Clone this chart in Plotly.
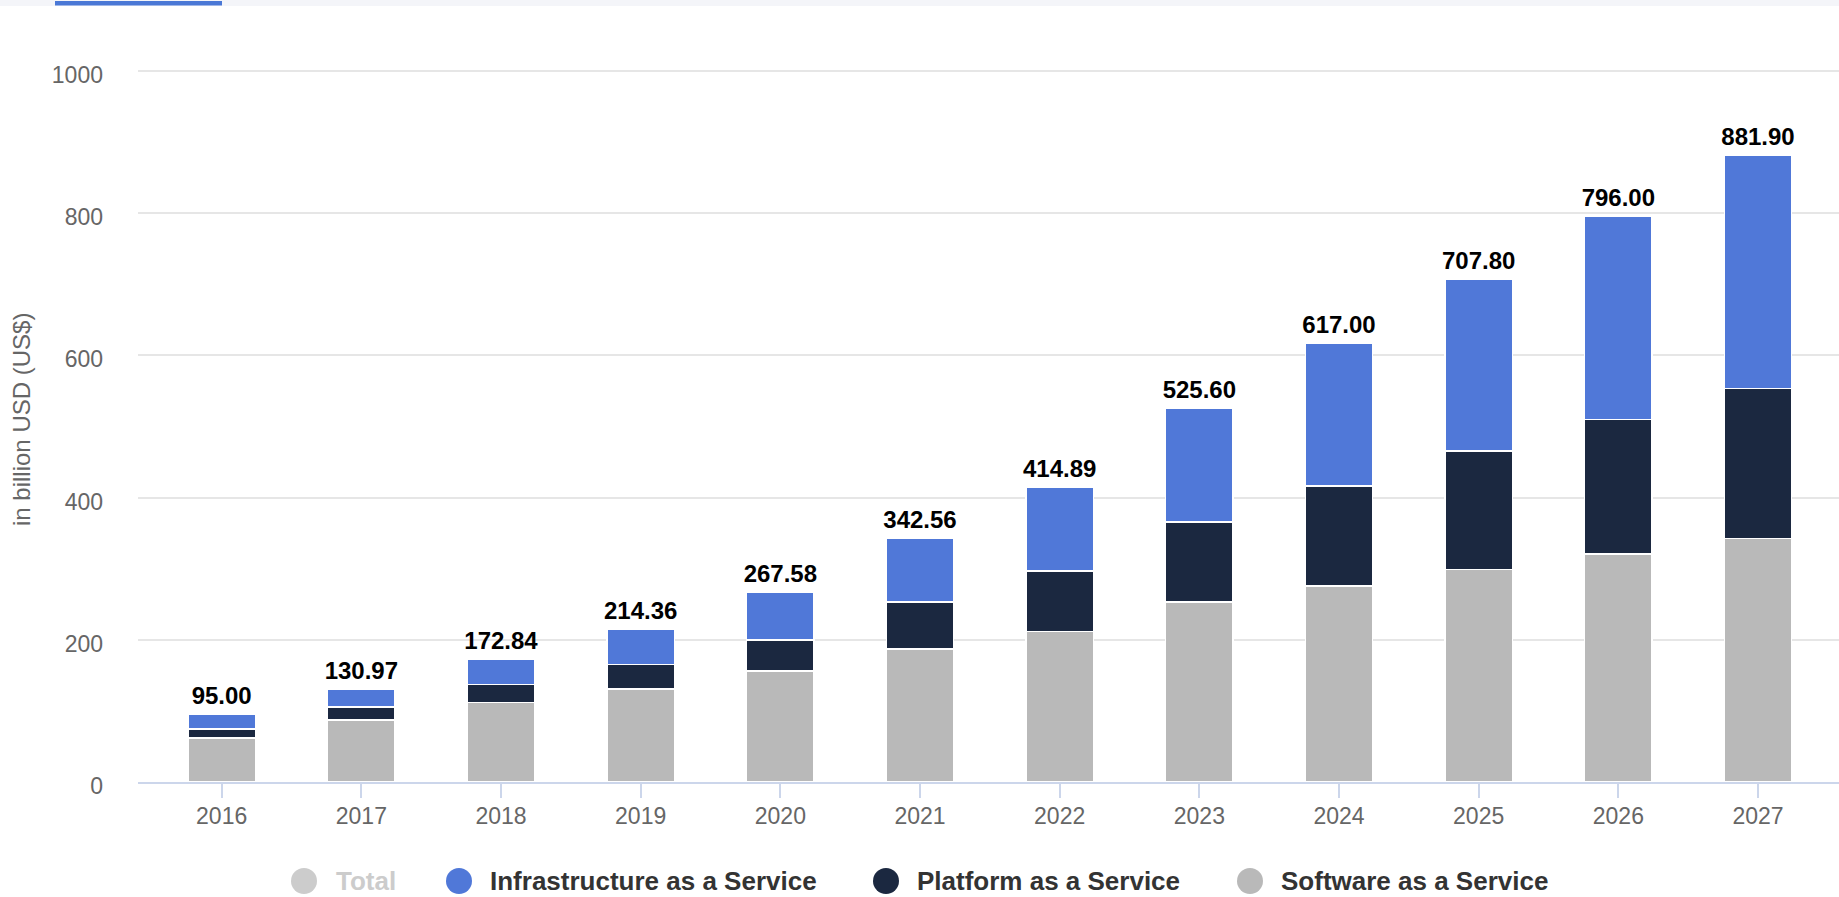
import plotly.graph_objects as go

years = ["2016", "2017", "2018", "2019", "2020", "2021", "2022", "2023", "2024", "2025", "2026", "2027"]
saas = [62.0, 87.0, 112.0, 131.0, 156.0, 187.0, 212.0, 253.0, 275.5, 298.6, 320.7, 342.5]
paas = [12.3, 18.5, 25.0, 34.2, 43.7, 66.2, 85.0, 112.6, 141.1, 167.0, 189.0, 211.0]
iaas = [20.7, 25.47, 35.84, 49.16, 67.88, 89.16, 117.89, 160.0, 200.4, 242.2, 286.3, 328.4]
total = [95.00, 130.97, 172.84, 214.36, 267.58, 342.56, 414.89, 525.60, 617.00, 707.80, 796.00, 881.90]
total_labels = ["95.00", "130.97", "172.84", "214.36", "267.58", "342.56", "414.89",
                "525.60", "617.00", "707.80", "796.00", "881.90"]
y_ticks = [0, 200, 400, 600, 800, 1000]

series = [
    ("Software as a Service", saas, "#b9b9b9"),
    ("Platform as a Service", paas, "#1b2840"),
    ("Infrastructure as a Service", iaas, "#5078d8"),
]

W, H = 1839, 897
L, R, T, B = 138, 0, 69, 115
pw, ph = W - L - R, H - T - B
y_top = (H - B - T) / ((H - B - 71) / 1000.0)

fig = go.Figure()
for name, vals, col in series:
    fig.add_trace(go.Bar(
        x=years, y=vals, name=name, width=0.483,
        marker=dict(color=col, line=dict(color="white", width=1.5)),
        showlegend=False, hoverinfo="x+y+name",
    ))

fig.add_trace(go.Scatter(
    x=years, y=total, mode="markers+text", text=total_labels, textposition="top center",
    marker=dict(size=5, color="rgba(0,0,0,0)"),
    textfont=dict(family="Liberation Sans, Arial, sans-serif", size=24, color="#000000",
                  weight="bold"),
    showlegend=False, hoverinfo="skip", cliponaxis=False,
))

shapes = []
annotations = []

# top decorative strip
shapes.append(dict(type="rect", xref="paper", yref="paper", xsizemode="pixel", ysizemode="pixel",
                   xanchor=0, yanchor=1, x0=-L, x1=W - L, y0=T, y1=T - 6,
                   fillcolor="#f4f5f9", line=dict(width=0), layer="below"))
shapes.append(dict(type="rect", xref="paper", yref="paper", xsizemode="pixel", ysizemode="pixel",
                   xanchor=0, yanchor=1, x0=55 - L, x1=222 - L, y0=T - 1, y1=T - 5.5,
                   fillcolor="#4a78d6", line=dict(width=0)))

# legend (custom, circle markers)
legend_items = [
    ("Total", "#cccccc", "#cccccc", 304, 334),
    ("Infrastructure as a Service", "#5078d8", "#333333", 459, 488),
    ("Platform as a Service", "#1b2840", "#333333", 886, 915),
    ("Software as a Service", "#b9b9b9", "#333333", 1250, 1279),
]
leg_y_px = 881
leg_y = (H - B - leg_y_px) / ph
for label, mcol, tcol, cx, tx in legend_items:
    shapes.append(dict(type="circle", xref="paper", yref="paper", xsizemode="pixel", ysizemode="pixel",
                       xanchor=(cx - L) / pw, yanchor=leg_y, x0=-13, x1=13, y0=-13, y1=13,
                       fillcolor=mcol, line=dict(width=0)))
    annotations.append(dict(text=label, xref="paper", yref="paper", x=(tx - L) / pw, y=leg_y,
                            xanchor="left", yanchor="middle", showarrow=False,
                            font=dict(family="Liberation Sans, Arial, sans-serif", size=26,
                                      color=tcol, weight="bold")))

# y axis title
annotations.append(dict(text="in billion USD (US$)", xref="paper", yref="paper",
                        x=(22 - L) / pw, y=(H - B - 420) / ph, textangle=-90,
                        xanchor="center", yanchor="middle", showarrow=False,
                        font=dict(family="Liberation Sans, Arial, sans-serif", size=24, color="#666666")))

fig.update_layout(
    width=W, height=H,
    margin=dict(l=L, r=R, t=T, b=B, pad=0),
    paper_bgcolor="white", plot_bgcolor="white",
    barmode="stack",
    showlegend=False,
    shapes=shapes, annotations=annotations,
    font=dict(family="Liberation Sans, Arial, sans-serif"),
)
fig.update_xaxes(
    type="category", range=[-0.599, 11.58],
    showline=True, linecolor="#ccd6eb", linewidth=2,
    ticks="outside", ticklen=14, tickcolor="#ccd6eb", tickwidth=2,
    tickfont=dict(size=23, color="#666666"), showgrid=False, ticklabelstandoff=-2,
)
fig.update_yaxes(
    range=[0, y_top], tickvals=y_ticks, ticktext=[str(v) for v in y_ticks],
    showgrid=True, gridcolor="#e6e6e6", gridwidth=1.5, zeroline=False,
    tickfont=dict(size=23, color="#666666"), ticklabelstandoff=34, ticklabelshift=4,
)

fig.write_html("out.html")
